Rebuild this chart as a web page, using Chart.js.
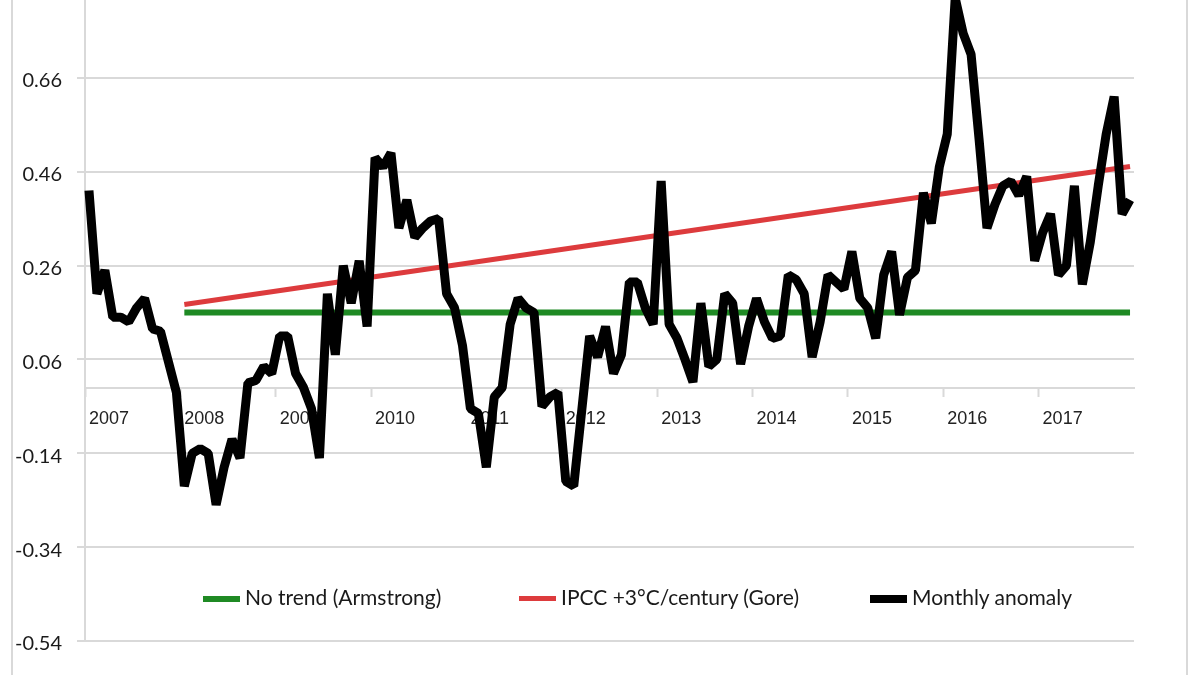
<!DOCTYPE html>
<html>
<head>
<meta charset="utf-8">
<script src="https://cdn.jsdelivr.net/npm/chart.js@4.4.1/dist/chart.umd.min.js"></script>
<style>
  html, body { margin: 0; padding: 0; background: #fff; overflow: hidden; }
  body { width: 1200px; height: 675px; position: relative; }
  #frame { position: absolute; left: 11px; top: -5px; width: 1177px; height: 690px; box-sizing: border-box;
           border-left: 2px solid #d9d9d9; border-right: 2px solid #d9d9d9; }
  #wrap { position: absolute; left: 0; top: -46px; width: 1200px; height: 717px; }
  #legend { position: absolute; left: 0; top: 584px; width: 1200px; height: 26px;
            font-family: Lato, "Open Sans", sans-serif; font-size: 21px; color: #1a1a1a; }
  .item { position: absolute; top: 0; height: 26px; line-height: 26px; white-space: nowrap; }
  .swatch { display: inline-block; width: 37px; vertical-align: middle; margin-right: 5px; position: relative; top: -1px; }
</style>
</head>
<body>
<div id="frame"></div>
<div id="wrap"><canvas id="chart" width="1200" height="717"></canvas></div>
<div id="legend"></div>
<script>
// tick labels / categories
const years = [2007, 2008, 2009, 2010, 2011, 2012, 2013, 2014, 2015, 2016, 2017];
const monthNames = ["Jan", "Feb", "Mar", "Apr", "May", "Jun", "Jul", "Aug", "Sep", "Oct", "Nov", "Dec"];

// monthly anomaly, Jan 2007 .. Dec 2017
const anomaly = [
  0.42, 0.20, 0.25, 0.15, 0.15, 0.14, 0.17, 0.19, 0.125, 0.12, 0.055, -0.01,      // 2007
  -0.21, -0.14, -0.13, -0.14, -0.25, -0.17, -0.11, -0.15, 0.01, 0.015, 0.045, 0.03, // 2008
  0.11, 0.11, 0.03, 0.0, -0.045, -0.15, 0.20, 0.07, 0.26, 0.18, 0.27, 0.13,       // 2009
  0.49, 0.47, 0.50, 0.34, 0.40, 0.32, 0.34, 0.355, 0.36, 0.20, 0.17, 0.09,        // 2010
  -0.045, -0.055, -0.17, -0.02, 0.0, 0.135, 0.19, 0.17, 0.16, -0.04, -0.02, -0.01, // 2011
  -0.20, -0.21, -0.05, 0.11, 0.065, 0.13, 0.03, 0.07, 0.225, 0.225, 0.17, 0.135,  // 2012
  0.44, 0.135, 0.105, 0.06, 0.012, 0.18, 0.045, 0.06, 0.20, 0.18, 0.05, 0.13,     // 2013
  0.19, 0.14, 0.105, 0.11, 0.24, 0.23, 0.20, 0.065, 0.14, 0.24, 0.225, 0.21,      // 2014
  0.29, 0.19, 0.17, 0.105, 0.24, 0.29, 0.155, 0.235, 0.25, 0.415, 0.35, 0.47,     // 2015
  0.54, 0.83, 0.755, 0.71, 0.53, 0.34, 0.39, 0.43, 0.44, 0.41, 0.45, 0.27,        // 2016
  0.33, 0.37, 0.24, 0.26, 0.43, 0.22, 0.31, 0.43, 0.54, 0.62, 0.37, 0.40          // 2017
];

// the two bet lines, from Jan 2008 to the last month
const betStart = "Jan 2008";
const noTrendLevel = 0.16;
const ipccStart = 0.177;
const ipccEnd = 0.471;

// y axis
const yMin = -0.54;
const yMax = 0.86;
const yStep = 0.2;

// month labels
const labels = [];
years.forEach(y => monthNames.forEach(m => labels.push(m + " " + y)));

const startIdx = labels.indexOf(betStart);
const lastIdx = labels.length - 1;
const noTrend = labels.map((_, i) => (i === startIdx || i === lastIdx) ? noTrendLevel : null);
const ipcc = labels.map((_, i) => i === startIdx ? ipccStart : (i === lastIdx ? ipccEnd : null));

const gridColor = "#d9d9d9";

// legend drawn as html, placed inside the plot like the original
const legendLeft = [203, 519, 870];
const htmlLegend = {
  id: "htmlLegend",
  afterUpdate(chart) {
    const box = document.getElementById("legend");
    box.innerHTML = "";
    chart.data.datasets.forEach((ds, i) => {
      const item = document.createElement("div");
      item.className = "item";
      item.style.left = legendLeft[i] + "px";
      const sw = document.createElement("span");
      sw.className = "swatch";
      sw.style.height = Math.min(ds.borderWidth, 8) + "px";
      sw.style.background = ds.borderColor;
      item.appendChild(sw);
      item.appendChild(document.createTextNode(ds.label));
      box.appendChild(item);
    });
  }
};

new Chart(document.getElementById("chart").getContext("2d"), {
  type: "line",
  data: {
    labels: labels,
    datasets: [
      {
        label: "No trend (Armstrong)",
        data: noTrend,
        borderColor: "#1f8a24",
        borderWidth: 6,
        spanGaps: true,
        pointRadius: 0,
        order: 2
      },
      {
        label: "IPCC +3°C/century (Gore)",
        data: ipcc,
        borderColor: "#dd3b3d",
        borderWidth: 5,
        spanGaps: true,
        pointRadius: 0,
        order: 1
      },
      {
        label: "Monthly anomaly",
        data: anomaly,
        borderColor: "#000000",
        borderWidth: 9,
        borderJoinStyle: "bevel",
        pointRadius: 0,
        tension: 0,
        order: 0
      }
    ]
  },
  options: {
    responsive: false,
    animation: false,
    devicePixelRatio: 1,
    layout: { padding: { top: 30, bottom: 30, left: 0, right: 66 } },
    plugins: {
      legend: { display: false },
      tooltip: { enabled: false }
    },
    scales: {
      x: {
        type: "category",
        offset: true,
        position: { y: 0 },
        grid: {
          offset: true,
          drawOnChartArea: false,
          drawTicks: true,
          tickLength: 8,
          tickWidth: 2,
          tickColor: ctx => (ctx.index % 12 === 0 ? gridColor : "rgba(0,0,0,0)")
        },
        border: { display: true, color: gridColor, width: 2 },
        ticks: {
          autoSkip: false,
          maxRotation: 0,
          minRotation: 0,
          align: "start",
          padding: 13,
          color: "#222",
          font: { family: "'Liberation Sans', Arial, sans-serif", size: 18 },
          callback: (v, i) => (i % 12 === 0 ? String(years[i / 12]) : "")
        }
      },
      y: {
        min: yMin,
        max: yMax,
        afterFit: scale => { scale.width = 85; },
        grid: { color: gridColor, lineWidth: 2, drawTicks: true, tickLength: 8 },
        border: { display: true, color: gridColor, width: 2 },
        ticks: {
          stepSize: yStep,
          padding: 15,
          labelOffset: 3,
          color: "#1a1a1a",
          font: { family: "Lato, 'Open Sans', sans-serif", size: 20 },
          callback: v => v.toFixed(2)
        }
      }
    }
  },
  plugins: [htmlLegend]
});
</script>
</body>
</html>
